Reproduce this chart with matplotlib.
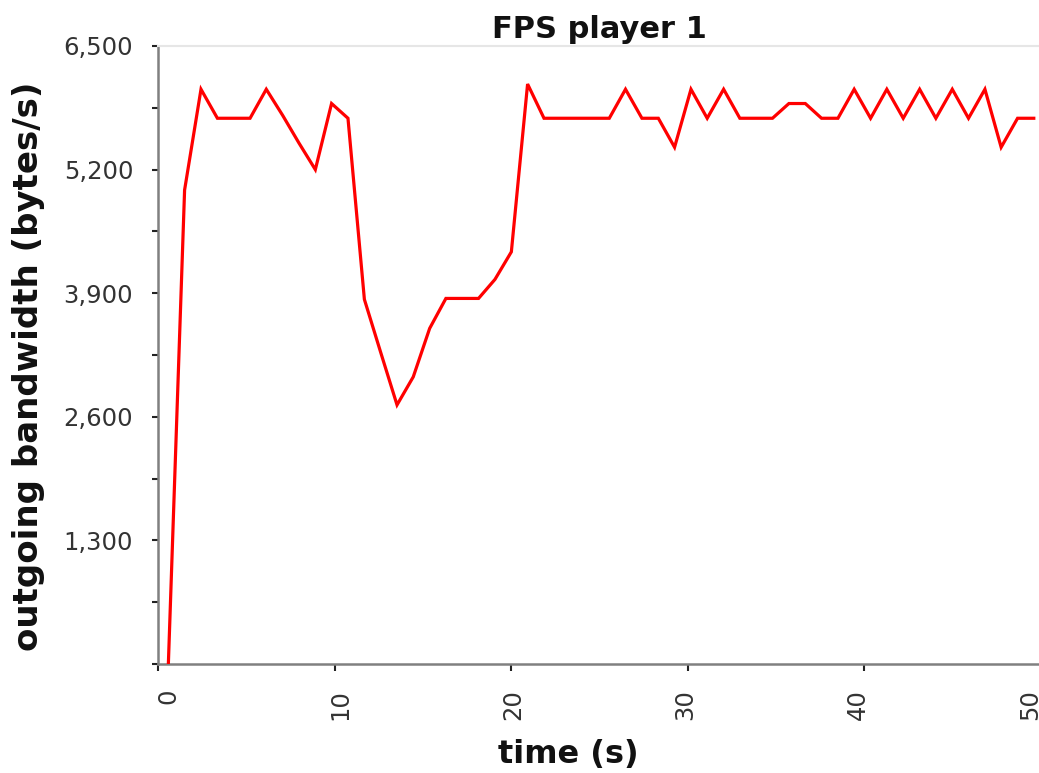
import matplotlib
matplotlib.use("Agg")
import matplotlib.pyplot as plt
from matplotlib.ticker import FixedLocator, MultipleLocator, FuncFormatter
from matplotlib.transforms import ScaledTranslation

# Sample times (s) and outgoing bandwidth (bytes/s) for player 1
time_s = [0.57, 1.49, 2.42, 3.35, 4.27, 5.20, 6.12, 7.05, 7.97, 8.90,
          9.82, 10.75, 11.68, 12.60, 13.53, 14.45, 15.38, 16.30, 17.23, 18.15,
          19.08, 20.01, 20.93, 21.86, 22.78, 23.71, 24.63, 25.56, 26.48, 27.41,
          28.34, 29.26, 30.19, 31.11, 32.04, 32.96, 33.89, 34.81, 35.74, 36.67,
          37.59, 38.52, 39.44, 40.37, 41.29, 42.22, 43.15, 44.07, 45.00, 45.92,
          46.85, 47.77, 48.70, 49.62]
bandwidth = [0, 4985, 6045, 5740, 5740, 5740, 6045, 5770, 5480, 5200,
             5895, 5740, 3835, 3280, 2725, 3020, 3530, 3845, 3845, 3845,
             4045, 4335, 6100, 5740, 5740, 5740, 5740, 5740, 6045, 5740,
             5740, 5435, 6045, 5740, 6045, 5740, 5740, 5740, 5895, 5895,
             5740, 5740, 6045, 5740, 6045, 5740, 6045, 5740, 6045, 5740,
             6045, 5435, 5740, 5740]

x_ticks = [0, 10, 20, 30, 40, 50]
y_ticks = [0, 1300, 2600, 3900, 5200, 6500]

W, H = 1039, 773
fig = plt.figure(figsize=(W / 100, H / 100), dpi=100)
ax = fig.add_axes([158.3 / W, (H - 664) / H, 882.2 / W, (664 - 46) / H])

ax.plot(time_s, bandwidth, color="#ff0000", lw=2.3, solid_joinstyle="miter",
        zorder=3)

ax.set_xlim(0, 50)
ax.set_ylim(0, 6500)

axis_gray = "#808080"
for side in ("left", "bottom"):
    ax.spines[side].set_color(axis_gray)
    ax.spines[side].set_linewidth(1.8)
ax.spines["right"].set_visible(False)
ax.spines["top"].set_color("#e6e6e6")
ax.spines["top"].set_linewidth(1.5)

ax.xaxis.set_major_locator(FixedLocator(x_ticks))
ax.yaxis.set_major_locator(FixedLocator(y_ticks))
ax.yaxis.set_minor_locator(MultipleLocator(650))
ax.yaxis.set_major_formatter(FuncFormatter(lambda v, p: f"{int(v):,}" if v > 0 else ""))

label_color = "#333333"
ax.tick_params(axis="y", which="major", length=4, width=1.5, color="#222222",
               labelsize=17.5, labelcolor=label_color, pad=14)
ax.tick_params(axis="y", which="minor", length=4, width=1.5, color="#222222")
ax.tick_params(axis="x", which="major", length=5, width=1.5, color="#222222",
               labelsize=17.5, labelcolor=label_color, pad=13, labelrotation=90)

# rotated time labels drift from right of their tick (at 0) to left (at 50)
for t, tick in zip(x_ticks, ax.xaxis.get_major_ticks(len(x_ticks))):
    dx = (10 - 0.4 * t) / 100.0
    tick.label1.set_transform(tick.label1.get_transform()
                              + ScaledTranslation(dx, 0, fig.dpi_scale_trans))

ax.set_title("FPS player 1", fontsize=22, fontweight="bold", color="#111111",
             pad=6)
ax.set_xlabel("time (s)", fontsize=23, fontweight="bold", color="#111111")
ax.xaxis.set_label_coords(0.465, -0.122)
ax.set_ylabel("outgoing bandwidth (bytes/s)", fontsize=24.5, fontweight="bold",
              color="#111111")
ax.yaxis.set_label_coords(-0.1284, 0.482)

fig.savefig("out.png", dpi=100, facecolor="white")
